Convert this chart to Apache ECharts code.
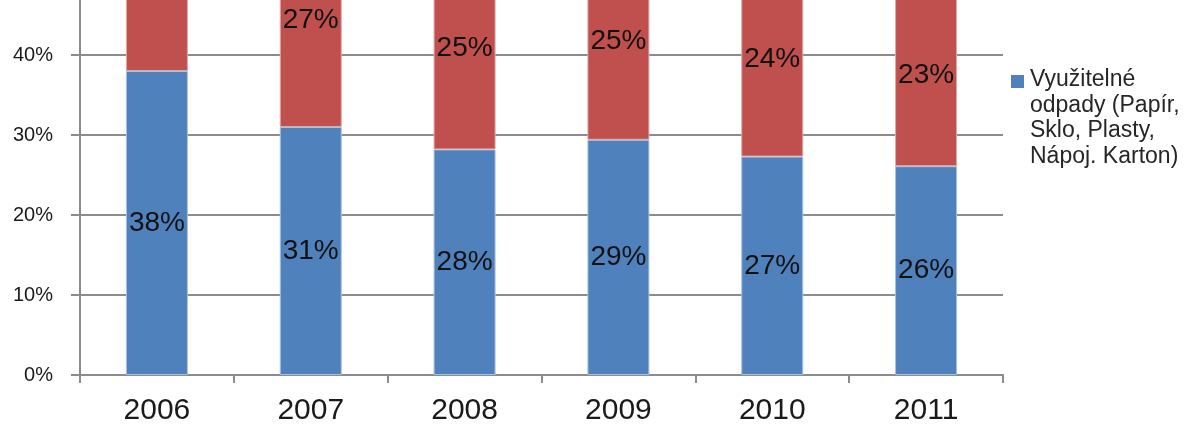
<!DOCTYPE html>
<html>
<head>
<meta charset="utf-8">
<script src="https://cdn.jsdelivr.net/npm/echarts@6/dist/echarts.min.js"></script>
<style>
html,body{margin:0;padding:0;background:#fff;}
#chart{width:1193px;height:447px;}
</style>
</head>
<body>
<div id="chart"></div>
<script>
const years = ['2006', '2007', '2008', '2009', '2010', '2011'];
const recyclable = [38, 31, 28.2, 29.4, 27.3, 26.1];
const otherWaste = [24, 26.8, 25.2, 24.6, 24.4, 22.8];
const yTicks = [0, 10, 20, 30, 40, 50, 60, 70];
const recyclableName = 'Využitelné odpady (Papír, Sklo, Plasty, Nápoj. Karton)';
const otherName = 'Směsný odpad';

const font = '"Liberation Sans", Arial, sans-serif';
const chart = echarts.init(document.getElementById('chart'));
const pctLabel = {
  show: true,
  position: 'inside',
  formatter: p => Math.round(p.value) + '%',
  fontSize: 28,
  fontFamily: font,
  color: '#111'
};
chart.setOption({
  animation: false,
  backgroundColor: '#fff',
  grid: {
    left: 80, right: 190,
    top: 375 - 8 * yTicks[yTicks.length - 1],
    height: 8 * yTicks[yTicks.length - 1],
    containLabel: false,
    outerBoundsMode: 'none'
  },
  xAxis: {
    type: 'category',
    data: years,
    axisLine: { lineStyle: { color: '#8c8c8c', width: 2 } },
    axisTick: { show: true, length: 8, lineStyle: { color: '#8c8c8c', width: 2 } },
    axisLabel: { fontSize: 30, fontFamily: font, color: '#1a1a1a', margin: 21 }
  },
  yAxis: {
    type: 'value',
    min: yTicks[0],
    max: yTicks[yTicks.length - 1],
    interval: 10,
    axisLine: { show: true, lineStyle: { color: '#8c8c8c', width: 2 } },
    axisTick: { show: true, length: 9, lineStyle: { color: '#8c8c8c', width: 2 } },
    axisLabel: { formatter: v => v + '%', fontSize: 20, fontFamily: font, color: '#1a1a1a', margin: 27 },
    splitLine: { show: true, lineStyle: { color: '#8c8c8c', width: 2 } }
  },
  series: [
    {
      name: recyclableName,
      type: 'bar',
      stack: 'total',
      data: recyclable,
      barWidth: 62,
      itemStyle: { color: '#4F81BD', borderColor: '#a9c1e0', borderWidth: 1 },
      label: pctLabel
    },
    {
      name: otherName,
      type: 'bar',
      stack: 'total',
      data: otherWaste,
      barWidth: 62,
      itemStyle: { color: '#C0504D', borderColor: '#e0a8a6', borderWidth: 1 },
      label: pctLabel
    }
  ],
  graphic: [
    { type: 'rect', left: 1011, top: 75, shape: { width: 13, height: 13 }, style: { fill: '#4F81BD' } },
    {
      type: 'text', left: 1030, top: 67,
      style: {
        text: 'Využitelné\nodpady (Papír,\nSklo, Plasty,\nNápoj. Karton)',
        fontSize: 23, lineHeight: 25.5, fontFamily: font, fill: '#262626'
      }
    }
  ]
});
</script>
</body>
</html>
